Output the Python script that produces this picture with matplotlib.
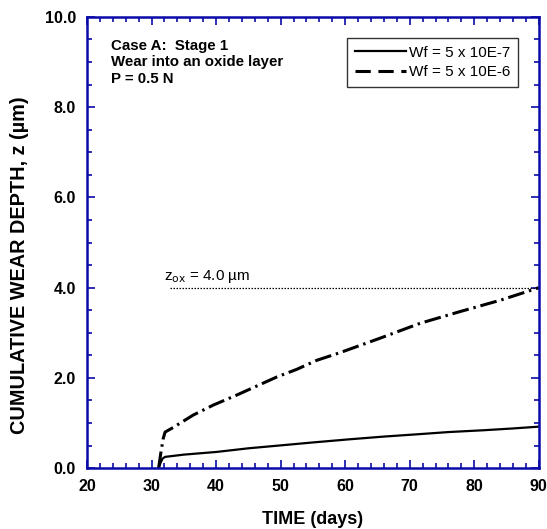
import matplotlib
matplotlib.use("Agg")
import matplotlib.pyplot as plt
from matplotlib.lines import Line2D
from matplotlib.ticker import MultipleLocator

plt.rcParams['font.family'] = ['Liberation Sans', 'DejaVu Sans']

# data
days_low = [31.1, 31.4, 31.7, 32.1, 35.0, 40.1, 45.0, 50.4, 55.0, 60.7, 66.0, 71.1, 76.0, 81.4, 86.0, 90.0]
z_low = [0.0, 0.12, 0.21, 0.25, 0.30, 0.36, 0.44, 0.51, 0.57, 0.64, 0.70, 0.75, 0.80, 0.84, 0.88, 0.92]

days_high = [31.1, 31.4, 31.8, 32.1, 33.1, 36.5, 39.6, 43.2, 46.3, 49.4, 52.5, 55.6, 59.2,
             65.4, 71.6, 77.8, 84.0, 88.1, 90.0]
z_high = [0.0, 0.3, 0.65, 0.8, 0.88, 1.18, 1.40, 1.62, 1.82, 2.02, 2.19, 2.39, 2.56,
          2.88, 3.21, 3.47, 3.72, 3.91, 4.0]

z_ox = 4.0
legend_labels = ['Wf = 5 x 10E-7', 'Wf = 5 x 10E-6']

blue = '#0a0aa8'

fig = plt.figure(figsize=(5.47, 5.29), dpi=100)
ax = fig.add_axes([0.159, 0.115, 0.826, 0.853])

ax.plot(days_low, z_low, color='black', lw=1.6)
ax.plot(days_high, z_high, color='black', lw=2.2, dashes=(5.5, 1.6, 0.8, 1.6))
ax.plot([32.9, 90], [z_ox, z_ox], color='black', lw=0.9, ls=(0, (1.2, 1.2)))
ax.text(32.0, z_ox + 0.17, r'z$_{\rm ox}$ = 4.0 µm', fontsize=11)

ax.text(23.7, 9.52, 'Case A:  Stage 1\nWear into an oxide layer\nP = 0.5 N',
        fontsize=10.8, fontweight='bold', va='top', linespacing=1.25)

handles = [Line2D([], [], color='black', lw=1.6),
           Line2D([], [], color='black', lw=2.2, dashes=(5, 2.5))]
leg = ax.legend(handles, legend_labels, loc='upper right', bbox_to_anchor=(0.9535, 0.953),
                borderaxespad=0, fontsize=11, frameon=True, fancybox=False, handlelength=3.4,
                handletextpad=0.15, borderpad=0.5, labelspacing=0.35)
leg.get_frame().set_edgecolor('black')
leg.get_frame().set_linewidth(1.0)

ax.set_xlim(20, 90)
ax.set_ylim(0, 10)
ax.xaxis.set_major_locator(MultipleLocator(10))
ax.xaxis.set_minor_locator(MultipleLocator(2))
ax.yaxis.set_major_locator(MultipleLocator(2))
ax.yaxis.set_minor_locator(MultipleLocator(0.5))
ax.set_yticklabels([f'{v:.1f}' for v in ax.get_yticks()])

ax.tick_params(which='both', direction='in', top=True, right=True, color=blue,
               labelsize=11.5, width=1.2)
ax.tick_params(which='major', length=6, pad=8)
ax.tick_params(which='minor', length=3.5)
for lab in ax.get_xticklabels() + ax.get_yticklabels():
    lab.set_fontweight('bold')
for s in ax.spines.values():
    s.set_color(blue)
    s.set_linewidth(1.8)

ax.set_xlabel('TIME (days)', fontsize=13, fontweight='bold', labelpad=12)
fig.text(20 / 547, 1 - 265 / 529, 'CUMULATIVE WEAR DEPTH, z (µm)', rotation=90,
         ha='center', va='center', fontsize=14.3, fontweight='bold')

fig.savefig('out.png', dpi=100)
